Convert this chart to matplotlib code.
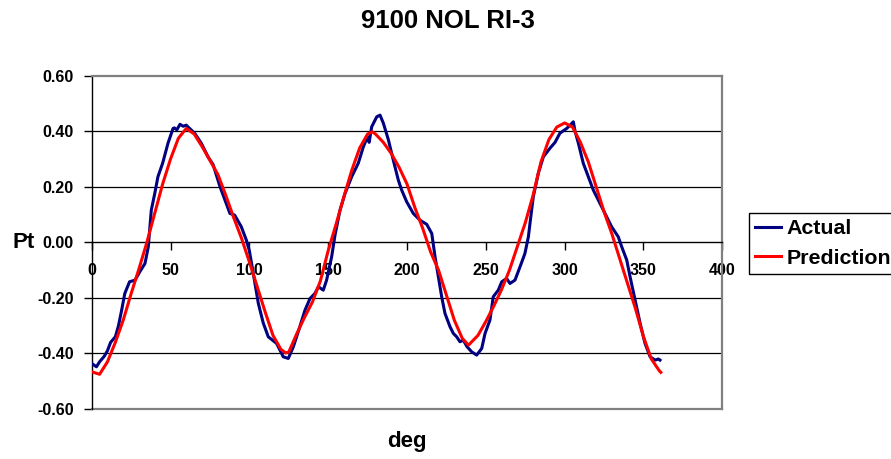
import matplotlib
matplotlib.use("Agg")
import matplotlib.pyplot as plt

plt.rcParams["font.family"] = ["Liberation Sans", "DejaVu Sans"]
plt.rcParams["axes.unicode_minus"] = False

# Measured response ("Actual")
actual_deg = [0, 3, 5, 8, 10, 12, 15, 17, 19, 21, 24, 27.5, 30.5, 33.8, 35.9,
              37.8, 40, 42, 45, 48.4, 51.6, 52.5, 54, 56, 58, 60, 61, 65.3,
              69.5, 73.8, 77, 81.4, 84, 87.7, 90.7, 94.9, 98.1, 100, 102.5,
              105.7, 108.8, 112, 117.3, 121.5, 124.7, 127.9, 131, 135.3,
              138.5, 141.6, 143.8, 146.9, 149, 152.2, 154.3, 157.5, 160.7,
              164.9, 169.1, 172.3, 175, 176, 177.6, 180.8, 182.9, 185, 188.2,
              191.3, 194.5, 196.5, 199.8, 204, 208.2, 212.5, 215.7, 217.8,
              219.9, 222, 224.1, 227.3, 229.4, 231.5, 233.6, 235.7, 238, 241,
              244.2, 247.4, 249.5, 252.6, 254.7, 257.9, 260.1, 263.2, 265.3,
              268.5, 271.7, 274.8, 277, 278, 280.1, 283.3, 286.5, 290.7,
              293.9, 297, 301.3, 304, 305.5, 306.6, 308.7, 311.8, 315, 318.2,
              321.4, 325.6, 329.8, 334, 336.2, 339.4, 341.5, 344.7, 347.9, 351,
              354.2, 357.4, 359.5, 360.5]
actual_pt = [-0.436, -0.448, -0.43, -0.41, -0.39, -0.36, -0.34, -0.30, -0.244,
             -0.184, -0.142, -0.136, -0.106, -0.076, -0.016,
             0.116, 0.176, 0.236, 0.285, 0.357, 0.41, 0.412, 0.405, 0.425,
             0.418, 0.422, 0.416, 0.393,
             0.357, 0.308, 0.28, 0.20, 0.16, 0.104, 0.098, 0.056, 0.008, -0.03,
             -0.112,
             -0.22, -0.29, -0.34, -0.364, -0.412, -0.418, -0.376, -0.322,
             -0.244,
             -0.202, -0.184, -0.16, -0.172, -0.136, -0.052, 0.025, 0.116,
             0.176,
             0.236, 0.285, 0.344, 0.38, 0.36, 0.416, 0.452, 0.458, 0.429,
             0.369,
             0.296, 0.224, 0.19, 0.146, 0.104, 0.08, 0.065, 0.032, -0.052,
             -0.124, -0.196, -0.256, -0.304, -0.328, -0.34, -0.358, -0.352,
             -0.375, -0.394,
             -0.406, -0.382, -0.328, -0.28, -0.196, -0.172, -0.142, -0.13,
             -0.148,
             -0.136, -0.088, -0.04, 0.02, 0.068, 0.164, 0.249, 0.308, 0.339,
             0.36, 0.393, 0.41, 0.425, 0.434, 0.40, 0.357, 0.285, 0.236, 0.188,
             0.152, 0.104, 0.056, 0.02, -0.016, -0.064, -0.124, -0.208,
             -0.292, -0.364,
             -0.412, -0.424, -0.42, -0.424]

# Model output ("Prediction")
pred_deg = [0, 5, 10, 15, 20, 25, 30, 35, 40, 45, 50, 55, 60, 65, 70, 75, 80,
            85, 90, 95, 100, 105, 110, 115, 120, 123, 125, 130, 135, 140, 145,
            150, 155, 160, 165, 170, 175, 178, 180, 185, 190, 195, 200, 205,
            210, 215, 220, 225, 230, 235, 239, 245, 250, 255, 260, 265, 270,
            275, 280, 285, 290, 295, 300, 305, 310, 315, 320, 325, 330, 335,
            340, 345, 350, 355, 360, 361]
pred_pt = [-0.466, -0.475, -0.43, -0.36, -0.28, -0.185, -0.095, 0.0, 0.105,
           0.21, 0.30, 0.375, 0.41, 0.39, 0.345, 0.295, 0.245, 0.17, 0.09,
           0.015, -0.07, -0.16, -0.25, -0.335, -0.385, -0.398, -0.395, -0.33,
           -0.27, -0.215, -0.14, -0.03, 0.065, 0.165, 0.26, 0.34, 0.39, 0.398,
           0.39, 0.36, 0.32, 0.27, 0.21, 0.125, 0.05, -0.035, -0.10, -0.19,
           -0.28, -0.345, -0.37, -0.335, -0.285, -0.23, -0.17, -0.10, -0.015,
           0.07, 0.17, 0.29, 0.37, 0.415, 0.43, 0.415, 0.36, 0.29, 0.20, 0.11,
           0.03, -0.06, -0.15, -0.24, -0.34, -0.42, -0.462, -0.468]

x_ticks = [0, 50, 100, 150, 200, 250, 300, 350, 400]
y_ticks = [-0.60, -0.40, -0.20, 0.00, 0.20, 0.40, 0.60]

W, H = 891, 459
fig = plt.figure(figsize=(W / 100, H / 100), dpi=100)
left, right, top, bottom = 91.7, 722.3, 75.7, 409.0
ax = fig.add_axes([left / W, 1 - bottom / H, (right - left) / W, (bottom - top) / H])

ax.plot(actual_deg, actual_pt, color="#000080", lw=2.2, label="Actual",
        solid_joinstyle="round", zorder=3)
ax.plot(pred_deg, pred_pt, color="#ff0000", lw=2.2, label="Prediction",
        solid_joinstyle="round", zorder=4)

ax.set_xlim(0, 400)
ax.set_ylim(-0.6, 0.6)

for g in [0.4, 0.2, -0.2, -0.4]:
    ax.axhline(g, color="black", lw=0.9, zorder=1)
ax.axhline(-0.6, color="#808080", lw=1.6, clip_on=False, zorder=2)

ax.spines["bottom"].set_position(("data", 0))
ax.spines["bottom"].set_color("black")
ax.spines["bottom"].set_linewidth(1.0)
ax.spines["left"].set_color("black")
ax.spines["left"].set_linewidth(1.0)
for s in ("top", "right"):
    ax.spines[s].set_color("#808080")
    ax.spines[s].set_linewidth(1.6)

ax.set_xticks(x_ticks)
ax.set_xticklabels([str(v) for v in x_ticks], fontsize=11.5, fontweight="bold")
ax.set_yticks(y_ticks)
ax.set_yticklabels([f"{v:.2f}" for v in y_ticks], fontsize=11.5, fontweight="bold")
ax.tick_params(axis="x", direction="out", length=6, width=1, pad=9)
ax.tick_params(axis="y", direction="out", length=6, width=1, pad=7)

fig.text(447.5 / W, 1 - 21 / H, "9100 NOL RI-3", ha="center", va="center",
         fontsize=18.5, fontweight="bold")
fig.text(23.5 / W, 1 - 242 / H, "Pt", ha="center", va="center",
         fontsize=16, fontweight="bold")
fig.text(406.7 / W, 1 - 442 / H, "deg", ha="center", va="center",
         fontsize=16, fontweight="bold")

leg = fig.legend(loc="upper left", bbox_to_anchor=(749 / W, 1 - 212.7 / H),
                 prop={"size": 15.4, "weight": "bold"}, frameon=True,
                 fancybox=False, edgecolor="black", framealpha=1,
                 handlelength=1.2, handletextpad=0.25, borderpad=0.3,
                 labelspacing=0.5, borderaxespad=0)
leg.get_frame().set_linewidth(1.0)

fig.savefig("out.png", dpi=100)
